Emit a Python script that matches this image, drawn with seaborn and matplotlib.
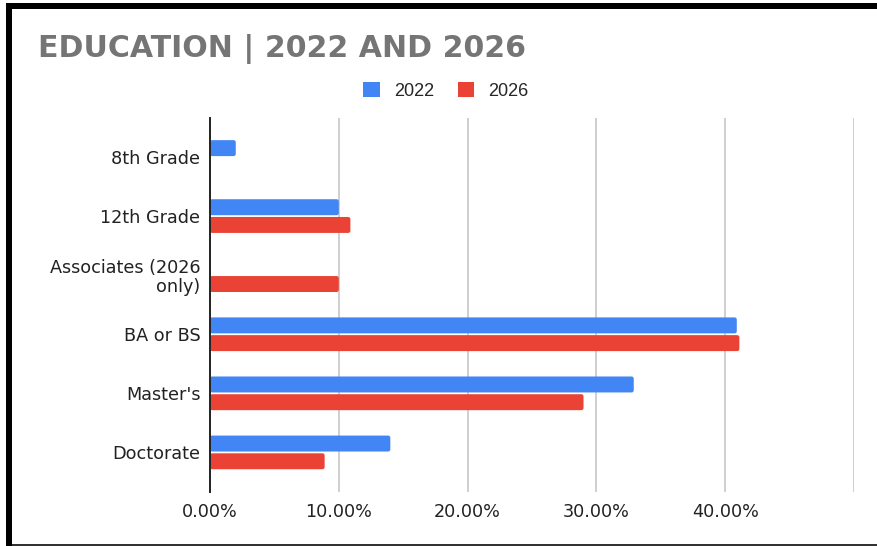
import matplotlib
matplotlib.use("Agg")
import matplotlib.pyplot as plt
from matplotlib.patches import Rectangle, Patch, FancyBboxPatch
from matplotlib.ticker import MultipleLocator
import numpy as np
import pandas as pd
import seaborn as sns

# Share of respondents by highest level of education
categories = ["8th Grade", "12th Grade", "Associates (2026\nonly)", "BA or BS", "Master's", "Doctorate"]
years = ["2022", "2026"]
share_2022 = [0.020, 0.100, np.nan, 0.409, 0.329, 0.140]
share_2026 = [np.nan, 0.109, 0.100, 0.411, 0.290, 0.089]
x_ticks = [0.0, 0.1, 0.2, 0.3, 0.4]

colors = {"2022": "#4285F4", "2026": "#EA4335"}

rows = []
for cat, a, b in zip(categories, share_2022, share_2026):
    rows.append({"level": cat, "year": "2022", "share": a})
    rows.append({"level": cat, "year": "2026", "share": b})
df = pd.DataFrame(rows).dropna()

sns.set_theme(style="white")
plt.rcParams["font.family"] = ["DejaVu Sans"]

W, H = 877, 546
fig = plt.figure(figsize=(W / 100, H / 100), dpi=100)
ax = fig.add_axes([210 / W, 1 - 492 / H, (854 - 210) / W, (492 - 118) / H])

sns.barplot(data=df, y="level", x="share", hue="year", order=categories,
            hue_order=years, palette=colors, orient="h", errorbar=None,
            width=0.6, gap=0.1, legend=False, ax=ax, saturation=1)

# soften the bar corners
xpx = (854 - 210) / 0.5
ypx = (492 - 118) / (5.67 + 0.66)
r = 2.2
for p in list(ax.patches):
    x0, y0 = p.get_x(), p.get_y()
    w, h = p.get_width(), p.get_height()
    if not np.isfinite(w) or w <= 0:
        p.remove()
        continue
    fb = FancyBboxPatch((x0, y0), w, h,
                        boxstyle=f"round,pad=0,rounding_size={r / xpx}",
                        mutation_aspect=xpx / ypx,
                        facecolor=p.get_facecolor(), edgecolor="none", zorder=3)
    p.remove()
    ax.add_patch(fb)

ax.set_xlim(0, 0.5)
ax.set_ylim(5.67, -0.66)
ax.set_xticks(x_ticks + [0.5])
ax.set_xticklabels([f"{t * 100:.2f}%" for t in x_ticks] + [""])
ax.grid(axis="x", color="#cccccc", linewidth=1.3, zorder=0)
ax.grid(axis="y", visible=False)
ax.set_axisbelow(True)
for s in ["top", "right", "bottom"]:
    ax.spines[s].set_visible(False)
ax.spines["left"].set_color("#222222")
ax.spines["left"].set_linewidth(1.4)
ax.spines["left"].set_zorder(4)
ax.tick_params(axis="both", length=0, labelsize=12.7, labelcolor="#222222")
ax.tick_params(axis="y", pad=7)
ax.tick_params(axis="x", pad=8)
for lbl in ax.get_yticklabels():
    lbl.set_multialignment("right")
    lbl.set_linespacing(1.05)
ax.set_xlabel("")
ax.set_ylabel("")

fig.text(38 / W, 1 - 49 / H, "EDUCATION | 2022 AND 2026", fontsize=21.6,
         fontweight="bold", color="#757575", ha="left", va="center")

handles = [Patch(facecolor=colors[y], edgecolor="none", label=y) for y in years]
fig.legend(handles=handles, loc="center", bbox_to_anchor=(446 / W, 1 - 91 / H),
           ncol=2, frameon=False, handlelength=0.9, handleheight=0.9,
           handletextpad=0.8, columnspacing=1.3,
           prop={"family": "Liberation Sans", "size": 13})

# framing lines
fig.patches.append(Rectangle((6 / W, 0), 6 / W, 1 - 3 / H, transform=fig.transFigure,
                             facecolor="black", edgecolor="none", zorder=10))
fig.patches.append(Rectangle((6 / W, 1 - 9 / H), 1, 6 / H, transform=fig.transFigure,
                             facecolor="black", edgecolor="none", zorder=10))
fig.patches.append(Rectangle((12 / W, 0), 1, 2 / H, transform=fig.transFigure,
                             facecolor="#333333", edgecolor="none", zorder=10))

fig.savefig("out.png", dpi=100, facecolor="white")
